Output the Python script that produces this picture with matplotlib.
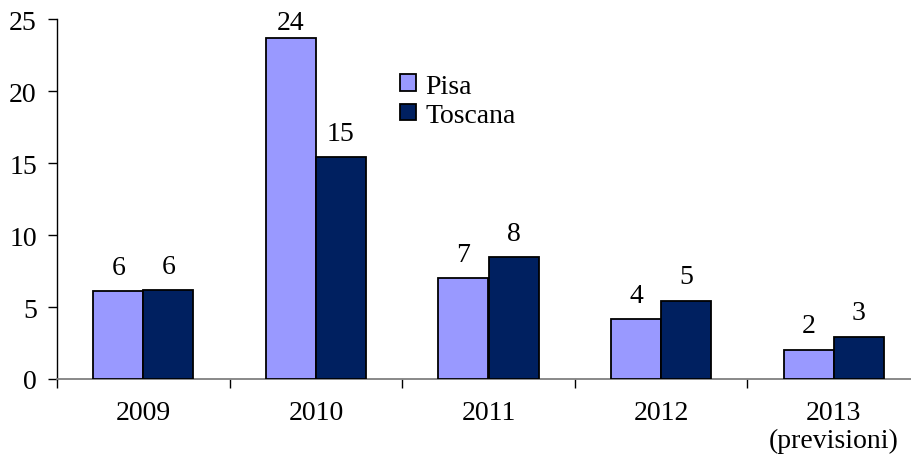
import matplotlib.pyplot as plt
import numpy as np

# data
years = ["2009", "2010", "2011", "2012", "2013\n(previsioni)"]
pisa = [6.1, 23.7, 7.0, 4.15, 2.05]
toscana = [6.2, 15.4, 8.45, 5.45, 2.95]
series_names = ["Pisa", "Toscana"]

plt.rcParams["font.family"] = ["Liberation Serif", "DejaVu Serif"]
fs = 20

fig = plt.figure(figsize=(9.12, 4.6), dpi=100)
ax = fig.add_axes([57 / 912, 1 - 380 / 460, (920 - 57) / 912, (380 - 20.3) / 460])

x = np.arange(len(years))
w = 0.29
b1 = ax.bar(x - w / 2, pisa, w, color="#9999ff", edgecolor="black", linewidth=1.3,
            label=series_names[0], zorder=3)
b2 = ax.bar(x + w / 2, toscana, w, color="#002060", edgecolor="black", linewidth=1.3,
            label=series_names[1], zorder=3)

# value labels above each bar
for bars, vals in [(b1, pisa), (b2, toscana)]:
    for rect, v in zip(bars, vals):
        off = 8 if v < 22 else 2.5
        ax.annotate(f"{v:.0f}", (rect.get_x() + rect.get_width() / 2, v),
                    xytext=(0, off), textcoords="offset points",
                    ha="center", va="bottom", fontsize=fs)

ax.set_ylim(0, 25)
ax.set_xlim(-0.5, len(years) - 0.5)
ax.set_yticks(range(0, 26, 5))
ax.tick_params(axis="y", direction="out", length=6.5, width=1, pad=8, labelsize=fs)

# category labels centered, tick marks between categories
ax.set_xticks(x)
ax.set_xticklabels(years, fontsize=fs, linespacing=1.15)
ax.tick_params(axis="x", which="major", length=0, pad=15)
ax.set_xticks(np.arange(-0.5, len(years), 1), minor=True)
ax.tick_params(axis="x", which="minor", direction="out", length=6.5, width=1)

for s in ["top", "right"]:
    ax.spines[s].set_visible(False)
ax.spines["bottom"].set_color("#808080")
ax.spines["bottom"].set_linewidth(1.3)
ax.spines["left"].set_linewidth(1.0)

ax.legend(loc="upper left", bbox_to_anchor=(0.385, 0.88), frameon=False,
          fontsize=fs, handlelength=0.55, handleheight=0.55, handletextpad=0.35,
          labelspacing=0.15, borderaxespad=0)

fig.savefig("out.png", dpi=100)
